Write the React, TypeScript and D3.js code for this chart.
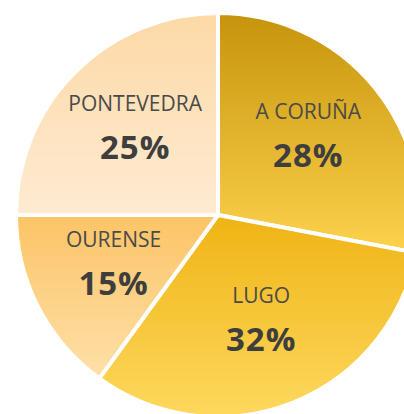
import * as d3 from "d3";

const provinces = ["A CORUÑA", "LUGO", "OURENSE", "PONTEVEDRA"];
const shares = [28, 32, 15, 25];
const topColors = ["#c6940c", "#efb414", "#fcc466", "#fdd9a6"];
const bottomColors = ["#fdd24c", "#fed85e", "#fee0a8", "#feebd2"];

export default function App() {
  const width = 404;
  const height = 414;
  const cx = 218;
  const cy = 215;
  const radius = 202;

  const pie = d3
    .pie<number>()
    .sort(null)
    .value((d) => d);
  const arcs = pie(shares);
  const arc = d3.arc<d3.PieArcDatum<number>>().innerRadius(0).outerRadius(radius);
  const labelArc = d3
    .arc<d3.PieArcDatum<number>>()
    .innerRadius(radius * 0.58)
    .outerRadius(radius * 0.58);

  return (
    <svg
      width={width}
      height={height}
      style={{ position: "absolute", left: 0, top: 0 }}
    >
      <defs>
        {provinces.map((p, i) => (
          <linearGradient key={p} id={`g${i}`} x1="0" y1="0" x2="0" y2="1">
            <stop offset="0%" stopColor={topColors[i]} />
            <stop offset="100%" stopColor={bottomColors[i]} />
          </linearGradient>
        ))}
      </defs>
      <g transform={`translate(${cx},${cy})`}>
        {arcs.map((a, i) => (
          <path
            key={provinces[i]}
            d={arc(a) ?? ""}
            fill={`url(#g${i})`}
            stroke="#fff"
            strokeWidth={4}
            strokeLinejoin="round"
          />
        ))}
        {arcs.map((a, i) => {
          const [x, y] = labelArc.centroid(a);
          return (
            <g key={provinces[i]} transform={`translate(${x},${y})`}>
              <text
                y={-21}
                textAnchor="middle"
                fontFamily="Open Sans"
                fontSize="21"
                fill="#4a4a4a"
              >
                {provinces[i]}
              </text>
              <text
                y={27}
                textAnchor="middle"
                fontFamily="Open Sans"
                fontWeight="bold"
                fontSize="33"
                letterSpacing="1"
                fill="#3e3e3e"
              >
                {shares[i]}%
              </text>
            </g>
          );
        })}
      </g>
    </svg>
  );
}
